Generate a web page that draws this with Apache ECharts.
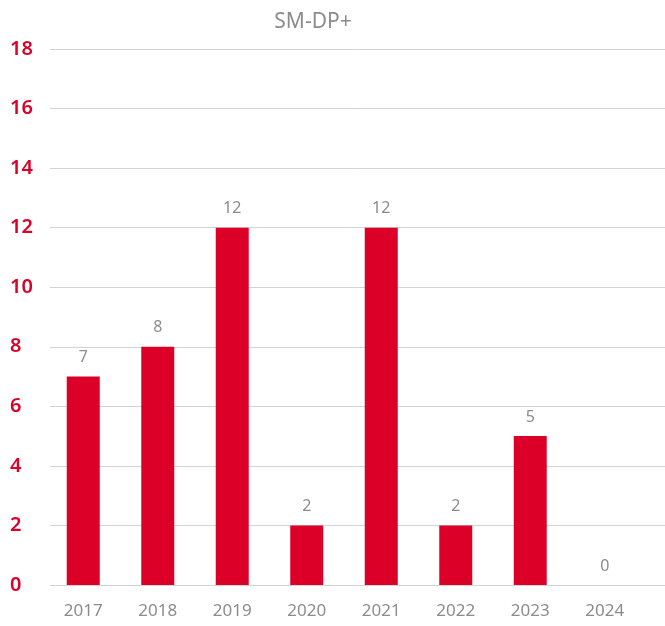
<!DOCTYPE html>
<html>
<head>
<meta charset="utf-8">
<script src="https://cdn.jsdelivr.net/npm/echarts@6/dist/echarts.min.js"></script>
<style>
  html, body { margin: 0; padding: 0; background: #fff; }
  #chart { width: 665px; height: 626px; }
</style>
</head>
<body>
<div id="chart"></div>
<script>
const years = ["2017", "2018", "2019", "2020", "2021", "2022", "2023", "2024"];
const counts = [7, 8, 12, 2, 12, 2, 5, 0];
const yTicks = [0, 2, 4, 6, 8, 10, 12, 14, 16, 18];

const red = "#dc0029";
const grey = "#8c8c8c";
const font = "Noto Sans";

const chart = echarts.init(document.getElementById("chart"));

chart.setOption({
  animation: false,
  title: {
    text: "SM-DP+",
    left: 308,
    top: 7,
    textAlign: "center",
    textStyle: { color: grey, fontSize: 21, fontWeight: "normal", fontFamily: font }
  },
  grid: [
    // gridlines + y labels, full width
    { left: 50, right: 0, top: 49, bottom: 41 },
    // bars, slightly narrower
    { left: 46, right: 23, top: 49, bottom: 41 }
  ],
  xAxis: [
    { gridIndex: 0, type: "value", show: false },
    {
      gridIndex: 1,
      type: "category",
      data: years,
      axisLine: { show: false },
      axisTick: { show: false },
      axisLabel: { color: grey, fontSize: 17, fontFamily: font, margin: 18 }
    }
  ],
  yAxis: [
    {
      gridIndex: 0,
      type: "value",
      min: yTicks[0],
      max: yTicks[yTicks.length - 1],
      interval: 2,
      axisLine: { show: false },
      axisTick: { show: false },
      axisLabel: {
        color: red, fontSize: 20, fontWeight: 600, fontFamily: font,
        align: "left", margin: 40
      },
      splitLine: { lineStyle: { color: "#d3d3d3", width: 1 } }
    },
    {
      gridIndex: 1,
      type: "value",
      min: yTicks[0],
      max: yTicks[yTicks.length - 1],
      interval: 2,
      show: false,
      splitLine: { show: false }
    }
  ],
  series: [
    {
      type: "bar",
      xAxisIndex: 1,
      yAxisIndex: 1,
      data: counts,
      barWidth: 33,
      itemStyle: { color: red },
      label: {
        show: true,
        position: "top",
        distance: 11,
        color: grey,
        fontSize: 16,
        fontFamily: font
      }
    }
  ]
});
</script>
</body>
</html>
